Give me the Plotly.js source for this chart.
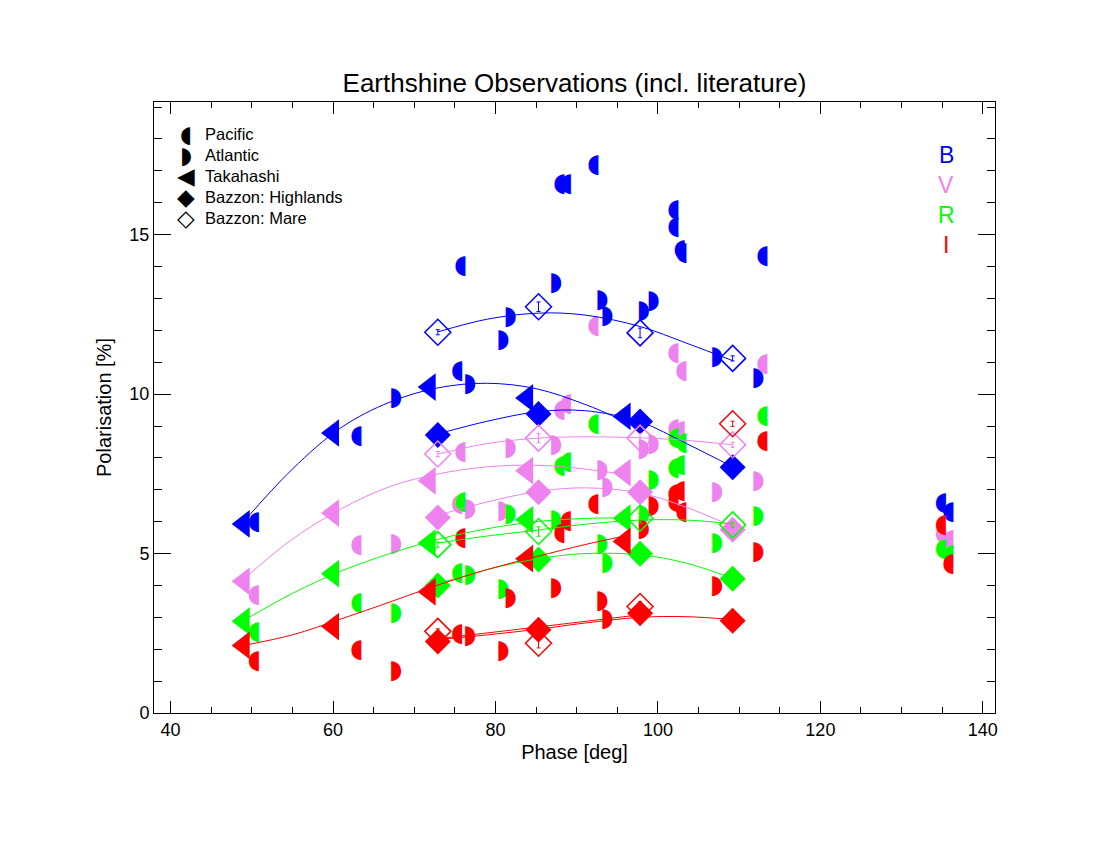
<!DOCTYPE html>
<html>
<head>
<meta charset="utf-8">
<script src="https://cdn.plot.ly/plotly-3.0.1.min.js"></script>
<style>
body { margin: 0; background: #fff; }
#plot { width: 1100px; height: 850px; }
</style>
</head>
<body>
<div id="plot"></div>
<script>
// filter bands and their colours
var bandNames = ['B', 'V', 'R', 'I'];
var bandColors = ['#0000ff', '#ee82ee', '#00ff00', '#ff0000'];

// Pacific earthshine observations (left half circle)
var pacX = [51.2, 63.8, 76.2, 76.6, 88.8, 89.6, 93.0, 102.85, 102.85, 103.6, 103.83, 113.8, 135.77, 136.7];
var pacB = [5.96, 8.66, 10.71, 13.99, 16.56, 16.56, 17.17, 15.77, 15.21, 14.5, 14.42, 14.3, 6.58, 6.3];
var pacV = [3.7, 5.24, 6.54, 8.17, 9.49, 9.66, 12.11, 11.27, 8.88, 8.83, 10.7, 10.94, 5.6, 5.4];
var pacR = [2.51, 3.42, 4.36, 6.6, 7.73, 7.84, 9.05, 8.62, 7.68, 7.75, 8.46, 9.29, 5.14, 4.95];
var pacI = [1.6, 1.97, 2.45, 5.47, 5.64, 6.0, 6.53, 6.84, 6.6, 6.95, 6.3, 8.5, 5.89, 4.65];

// Atlantic earthshine observations (right half circle)
var atlX = [66.9, 76.0, 80.1, 81.0, 86.6, 92.3, 92.9, 97.4, 98.6, 106.4, 111.5];
var atlB = [9.87, 10.29, 11.67, 12.39, 13.47, 12.95, 12.43, 12.59, 12.89, 11.15, 10.49];
var atlV = [5.29, 6.37, 6.33, 8.29, 8.39, 7.62, 7.08, 8.25, 8.41, 6.92, 7.27];
var atlR = [3.12, 4.3, 3.87, 6.22, 6.03, 5.28, 4.7, 6.2, 7.28, 5.31, 6.16];
var atlI = [1.29, 2.4, 1.92, 3.6, 3.9, 3.5, 2.92, 5.75, 6.48, 3.96, 5.03];

// Takahashi
var takX = [49.0, 60.0, 71.9, 83.9, 95.9];
var takB = [5.93, 8.78, 10.22, 9.88, 9.3];
var takV = [4.13, 6.27, 7.28, 7.6, 7.54];
var takR = [2.88, 4.37, 5.33, 6.06, 6.11];
var takI = [2.12, 2.71, 3.8, 4.84, 5.38];

// Bazzon: highlands and mare
var bazX = [72.9, 85.3, 97.8, 109.2];
var bazErr = [0.08, 0.15, 0.15, 0.08];
var highB = [8.72, 9.38, 9.14, 7.71];
var highV = [6.13, 6.92, 6.92, 5.75];
var highR = [4.0, 4.81, 4.99, 4.21];
var highI = [2.24, 2.61, 3.13, 2.89];
var mareB = [11.94, 12.74, 11.92, 11.12];
var mareV = [8.12, 8.62, 8.62, 8.41];
var mareR = [5.28, 5.69, 6.11, 5.9];
var mareI = [2.56, 2.19, 3.34, 9.07];

// fitted curves
var takFitX = [49, 55, 61, 67, 73, 79, 85, 91, 95.9];
var takFitB = [6.0, 7.65, 8.95, 9.75, 10.2, 10.34, 10.17, 9.68, 9.15];
var takFitV = [4.2, 5.45, 6.4, 7.1, 7.5, 7.72, 7.77, 7.65, 7.48];
var takFitR = [2.9, 3.75, 4.45, 5.0, 5.45, 5.78, 6.0, 6.1, 6.12];
var takFitI = [2.12, 2.45, 2.95, 3.48, 4.02, 4.5, 4.9, 5.28, 5.55];

var bazFitX = [72.9, 79, 85.3, 91, 97.8, 103.5, 109.2];
var highFitB = [8.75, 9.15, 9.45, 9.48, 9.13, 8.45, 7.72];
var highFitV = [6.2, 6.62, 6.95, 7.06, 6.9, 6.45, 5.85];
var highFitR = [4.05, 4.5, 4.84, 5.0, 4.96, 4.7, 4.22];
var highFitI = [2.3, 2.45, 2.63, 2.82, 3.0, 3.02, 2.93];
var mareFitB = [11.95, 12.35, 12.54, 12.48, 12.12, 11.6, 11.05];
var mareFitV = [8.12, 8.45, 8.62, 8.66, 8.63, 8.55, 8.41];
var mareFitR = [5.33, 5.55, 5.74, 5.92, 6.05, 6.05, 5.93];
var mareFitIX = [72.9, 85.3, 97.8];
var mareFitI = [2.33, 2.7, 3.08];

var pac = [pacB, pacV, pacR, pacI];
var atl = [atlB, atlV, atlR, atlI];
var tak = [takB, takV, takR, takI];
var high = [highB, highV, highR, highI];
var mare = [mareB, mareV, mareR, mareI];
var takFit = [takFitB, takFitV, takFitR, takFitI];
var highFit = [highFitB, highFitV, highFitR, highFitI];
var mareFit = [mareFitB, mareFitV, mareFitR, mareFitI];

var halfFont = 'DejaVu Sans';
var halfSize = 26;

var data = [];

// half circles as glyphs
for (var i = 0; i < 4; i++) {
    data.push({
        x: pacX, y: pac[i], mode: 'text', text: pacX.map(function () { return '\u25D6'; }),
        textposition: 'middle left',
        textfont: {family: halfFont, size: halfSize, color: bandColors[i]},
        hoverinfo: 'skip'
    });
    data.push({
        x: atlX, y: atl[i], mode: 'text', text: atlX.map(function () { return '\u25D7'; }),
        textposition: 'middle right',
        textfont: {family: halfFont, size: halfSize, color: bandColors[i]},
        hoverinfo: 'skip'
    });
}

for (var i = 0; i < 4; i++) {
    data.push({
        x: takX, y: tak[i], mode: 'markers',
        marker: {symbol: 'triangle-left', size: 24, color: bandColors[i]}
    });
    data.push({
        x: bazX, y: high[i], mode: 'markers',
        marker: {symbol: 'diamond', size: 20, color: bandColors[i]},
        error_y: {type: 'data', array: bazErr, color: bandColors[i], thickness: 1, width: 2}
    });
    data.push({
        x: bazX, y: mare[i], mode: 'markers',
        marker: {symbol: 'diamond-open', size: 20, color: bandColors[i], line: {width: 1.5}},
        error_y: {type: 'data', array: bazErr, color: bandColors[i], thickness: 1, width: 2}
    });
}

for (var i = 0; i < 4; i++) {
    data.push({x: takFitX, y: takFit[i], mode: 'lines', line: {color: bandColors[i], width: 1, shape: 'spline'}});
    data.push({x: bazFitX, y: highFit[i], mode: 'lines', line: {color: bandColors[i], width: 1, shape: 'spline'}});
    data.push({x: i == 3 ? mareFitIX : bazFitX, y: mareFit[i], mode: 'lines', line: {color: bandColors[i], width: 1, shape: 'spline'}});
}

// legend drawn as annotations
var legendSymbols = ['\u25D6', '\u25D7', '\u25C0', '\u25C6', '\u25C7'];
var legendLabels = ['Pacific', 'Atlantic', 'Takahashi', 'Bazzon: Highlands', 'Bazzon: Mare'];
var legendY = [18.16, 17.5, 16.84, 16.18, 15.52];
var bandLabelY = [17.49, 16.55, 15.61, 14.67];

var annotations = [];
for (var k = 0; k < legendLabels.length; k++) {
    annotations.push({x: 41.9, y: legendY[k], xref: 'x', yref: 'y', text: legendSymbols[k], showarrow: false,
        font: {family: 'DejaVu Sans', size: 23, color: '#000'}, xanchor: 'center', yanchor: 'middle'});
    annotations.push({x: 43.95, y: legendY[k], xref: 'x', yref: 'y', text: legendLabels[k], showarrow: false,
        font: {size: 16.5, color: '#000'}, xanchor: 'left', yanchor: 'middle'});
}
for (var k = 0; k < 4; k++) {
    annotations.push({x: 135.5, y: bandLabelY[k], xref: 'x', yref: 'y', text: bandNames[k], showarrow: false,
        font: {size: 23, color: bandColors[k]}, xanchor: 'center', yanchor: 'middle'});
}

var layout = {
    width: 1100,
    height: 850,
    showlegend: false,
    paper_bgcolor: '#fff',
    plot_bgcolor: '#fff',
    font: {family: 'Liberation Sans, Arial, sans-serif', color: '#000'},
    margin: {l: 154, r: 105, t: 102, b: 137},
    title: {text: 'Earthshine Observations (incl. literature)', font: {size: 26, color: '#000'},
        x: 0.5, xref: 'paper', y: 0.903, yref: 'container', yanchor: 'middle'},
    xaxis: {
        range: [37.96, 141.5], showgrid: false, zeroline: false,
        showline: true, linecolor: '#000', linewidth: 1, mirror: 'ticks',
        ticks: 'inside', ticklen: 12, tickcolor: '#000', tick0: 40, dtick: 20,
        minor: {ticks: 'inside', ticklen: 6, dtick: 5, tickcolor: '#000'},
        tickfont: {size: 18},
        title: {text: 'Phase [deg]', font: {size: 20}, standoff: 6}
    },
    yaxis: {
        range: [0, 19.16], showgrid: false, zeroline: false,
        showline: true, linecolor: '#000', linewidth: 1, mirror: 'ticks',
        ticks: 'inside', ticklen: 17, tickcolor: '#000', tick0: 0, dtick: 5,
        minor: {ticks: 'inside', ticklen: 8, dtick: 1, tickcolor: '#000'},
        tickfont: {size: 18},
        title: {text: 'Polarisation [%]', font: {size: 20}, standoff: 12}
    },
    annotations: annotations
};

Plotly.newPlot('plot', data, layout, {displayModeBar: false, staticPlot: true});
</script>
</body>
</html>
